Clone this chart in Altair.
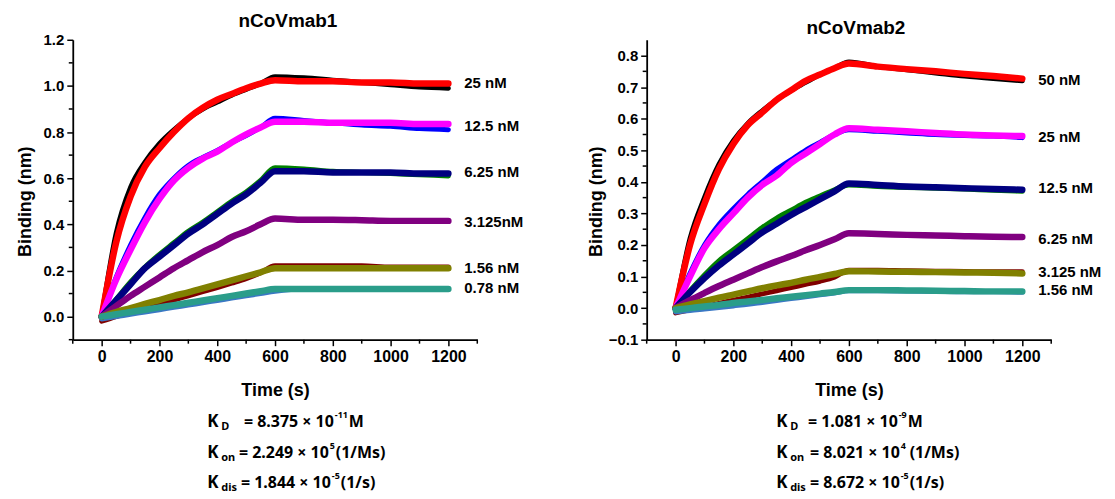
import altair as alt
import pandas as pd

# ---------------- data ----------------
T = [0, 50, 100, 150, 200, 250, 300, 350, 400, 450, 500, 550, 600, 700, 800, 900, 1000, 1100, 1200]

# nCoVmab1 (left panel) : measured traces (thick, on top) and fitted traces (underneath)
L_CONC = ["25 nM", "12.5 nM", "6.25 nM", "3.125nM", "1.56 nM", "0.78 nM"]
L_LABEL_Y = [1.013, 0.826, 0.625, 0.410, 0.211, 0.122]
L_TOP_COLORS = ["#ff0000", "#ff00ff", "#000080", "#800080", "#808000", "#2a9d8a"]
L_UNDER_COLORS = ["#000000", "#0000ff", "#008000", "#800080", "#800000", "#3a78c4"]
L_TOP = [
    [0, 0.32, 0.52, 0.65, 0.73, 0.80, 0.86, 0.905, 0.94, 0.965, 0.99, 1.01, 1.025, 1.02, 1.02, 1.015, 1.015, 1.01, 1.01],
    [0, 0.16, 0.29, 0.41, 0.51, 0.59, 0.645, 0.685, 0.715, 0.755, 0.79, 0.82, 0.845, 0.845, 0.84, 0.84, 0.84, 0.835, 0.835],
    [0, 0.07, 0.14, 0.21, 0.26, 0.31, 0.36, 0.40, 0.445, 0.49, 0.53, 0.58, 0.63, 0.63, 0.625, 0.625, 0.625, 0.62, 0.62],
    [0, 0.045, 0.09, 0.13, 0.17, 0.21, 0.245, 0.28, 0.31, 0.345, 0.37, 0.40, 0.425, 0.42, 0.42, 0.418, 0.415, 0.415, 0.415],
    [0, 0.02, 0.037, 0.055, 0.072, 0.09, 0.105, 0.122, 0.14, 0.157, 0.175, 0.192, 0.21, 0.21, 0.21, 0.21, 0.21, 0.21, 0.21],
    [0, 0.01, 0.02, 0.03, 0.04, 0.05, 0.06, 0.07, 0.08, 0.09, 0.10, 0.11, 0.12, 0.12, 0.12, 0.12, 0.12, 0.12, 0.12],
]
L_UNDER = [
    [0, 0.36, 0.56, 0.67, 0.75, 0.81, 0.86, 0.90, 0.93, 0.96, 0.985, 1.01, 1.04, 1.035, 1.025, 1.015, 1.005, 0.995, 0.99],
    [0, 0.17, 0.31, 0.43, 0.53, 0.60, 0.655, 0.69, 0.72, 0.755, 0.785, 0.82, 0.86, 0.85, 0.84, 0.83, 0.825, 0.815, 0.81],
    [0, 0.075, 0.15, 0.215, 0.27, 0.32, 0.37, 0.41, 0.455, 0.50, 0.54, 0.59, 0.645, 0.64, 0.63, 0.625, 0.62, 0.615, 0.61],
    [0, 0.045, 0.09, 0.13, 0.17, 0.21, 0.245, 0.28, 0.31, 0.345, 0.37, 0.40, 0.425, 0.42, 0.42, 0.418, 0.415, 0.415, 0.415],
    [-0.02, 0.0, 0.018, 0.036, 0.054, 0.072, 0.09, 0.108, 0.126, 0.145, 0.165, 0.19, 0.22, 0.22, 0.22, 0.22, 0.215, 0.215, 0.215],
    [-0.01, 0.0, 0.01, 0.02, 0.03, 0.04, 0.05, 0.06, 0.07, 0.08, 0.09, 0.10, 0.11, 0.12, 0.12, 0.12, 0.12, 0.12, 0.12],
]

# nCoVmab2 (right panel)
R_CONC = ["50 nM", "25 nM", "12.5 nM", "6.25 nM", "3.125 nM", "1.56 nM"]
R_LABEL_Y = [0.7225, 0.542, 0.379, 0.219, 0.114, 0.056]
R_TOP_COLORS = ["#ff0000", "#ff00ff", "#000080", "#800080", "#808000", "#2a9d8a"]
R_UNDER_COLORS = ["#000000", "#0000ff", "#008000", "#800080", "#800000", "#3a78c4"]
R_TOP = [
    [0, 0.20, 0.33, 0.44, 0.52, 0.58, 0.62, 0.66, 0.69, 0.72, 0.74, 0.76, 0.775, 0.765, 0.757, 0.75, 0.742, 0.735, 0.727],
    [0, 0.10, 0.19, 0.25, 0.30, 0.35, 0.39, 0.42, 0.46, 0.49, 0.52, 0.55, 0.57, 0.565, 0.56, 0.555, 0.55, 0.547, 0.545],
    [0, 0.05, 0.095, 0.135, 0.17, 0.205, 0.24, 0.267, 0.295, 0.32, 0.345, 0.37, 0.395, 0.39, 0.385, 0.383, 0.38, 0.377, 0.375],
    [0, 0.025, 0.048, 0.07, 0.09, 0.11, 0.13, 0.148, 0.165, 0.183, 0.20, 0.218, 0.237, 0.235, 0.232, 0.23, 0.228, 0.226, 0.225],
    [0, 0.012, 0.022, 0.033, 0.043, 0.053, 0.063, 0.072, 0.08, 0.09, 0.099, 0.108, 0.117, 0.116, 0.115, 0.114, 0.113, 0.112, 0.11],
    [-0.005, 0.0, 0.005, 0.01, 0.016, 0.021, 0.026, 0.031, 0.036, 0.041, 0.046, 0.051, 0.057, 0.057, 0.056, 0.055, 0.054, 0.053, 0.053],
]
R_UNDER = [
    [0, 0.22, 0.35, 0.455, 0.53, 0.585, 0.625, 0.66, 0.69, 0.715, 0.74, 0.76, 0.78, 0.765, 0.755, 0.745, 0.735, 0.727, 0.72],
    [0, 0.11, 0.20, 0.265, 0.315, 0.36, 0.40, 0.44, 0.47, 0.50, 0.525, 0.55, 0.565, 0.56, 0.555, 0.55, 0.547, 0.545, 0.54],
    [0, 0.055, 0.105, 0.15, 0.185, 0.22, 0.255, 0.285, 0.31, 0.335, 0.355, 0.375, 0.39, 0.385, 0.382, 0.38, 0.377, 0.373, 0.37],
    [0, 0.025, 0.048, 0.07, 0.09, 0.11, 0.13, 0.148, 0.165, 0.183, 0.20, 0.218, 0.237, 0.235, 0.232, 0.23, 0.228, 0.226, 0.225],
    [-0.015, -0.005, 0.005, 0.015, 0.025, 0.035, 0.045, 0.055, 0.065, 0.075, 0.085, 0.098, 0.12, 0.12, 0.118, 0.117, 0.116, 0.115, 0.115],
    [-0.012, -0.008, -0.003, 0.002, 0.007, 0.012, 0.018, 0.024, 0.03, 0.036, 0.042, 0.048, 0.055, 0.055, 0.054, 0.053, 0.052, 0.052, 0.05],
]

X_TICKS = [0, 200, 400, 600, 800, 1000, 1200]
X_MINOR = [-100, 100, 300, 500, 700, 900, 1100, 1300]
L_Y_TICKS = [0.0, 0.2, 0.4, 0.6, 0.8, 1.0, 1.2]
L_Y_MINOR = [-0.1, 0.1, 0.3, 0.5, 0.7, 0.9, 1.1]
R_Y_TICKS = [-0.1, 0.0, 0.1, 0.2, 0.3, 0.4, 0.5, 0.6, 0.7, 0.8]
R_Y_MINOR = [-0.05, 0.05, 0.15, 0.25, 0.35, 0.45, 0.55, 0.65, 0.75]

# kinetic constants: (symbol, subscript, mantissa part, exponent, unit)
L_TEXT = [("K", "D", "=  8.375 × 10", "-11", "M"),
          ("K", "on", "= 2.249 × 10", "5", "(1/Ms)"),
          ("K", "dis", "= 1.844 × 10", "-5", "(1/s)")]
R_TEXT = [("K", "D", "= 1.081 × 10", "-9", "M"),
          ("K", "on", "= 8.021 × 10", "4", "(1/Ms)"),
          ("K", "dis", "= 8.672 × 10", "-5", "(1/s)")]

W, H = 406, 301
AXF = "Liberation Sans"
TXF = "Noto Sans"


def long_df(names, colors, series, order_offset):
    rows = []
    for i, (n, c, vals) in enumerate(zip(names, colors, series)):
        for t, v in zip(T, vals):
            rows.append({"t": t, "v": v, "s": f"{order_offset}{i}_{n}", "col": c})
    return pd.DataFrame(rows)


def txt(x, y, s, size, align="left"):
    return alt.Chart().mark_text(align=align, baseline="middle", font=TXF, fontSize=size,
                                 fontWeight="bold", color="black").encode(
        x=alt.value(x), y=alt.value(y), text=alt.value(s))


def panel(title, dx, names, label_y, top_c, under_c, top, under, ydom, yticks, yminor,
          texts, kx, anchors, tails, ytitle_pad):
    xenc = alt.X("t:Q", scale=alt.Scale(domain=[-100, 1300], nice=False, zero=False),
                 axis=alt.Axis(values=X_TICKS, format="d", title="Time (s)", grid=False, tickSize=6,
                               tickWidth=1.5, domainWidth=1.8, domainColor="black", tickColor="black",
                               labelFont=AXF, labelFontSize=16, labelFontWeight="bold", labelColor="black",
                               labelPadding=3, titleFont=AXF, titleFontSize=18, titleFontWeight="bold",
                               titleColor="black", titlePadding=17, labelFlush=False))
    yenc = alt.Y("v:Q", scale=alt.Scale(domain=ydom, nice=False, zero=False),
                 axis=alt.Axis(values=yticks, format=".1f", title="Binding (nm)", grid=False, tickSize=6,
                               tickWidth=1.5, domainWidth=1.8, domainColor="black", tickColor="black",
                               labelFont=AXF, labelFontSize=15, labelFontWeight="bold", labelColor="black",
                               labelPadding=3, titleFont=AXF, titleFontSize=18, titleFontWeight="bold",
                               titleColor="black", titlePadding=ytitle_pad, titleY=162, labelFlush=False))

    under_df = long_df(names, under_c, under, "a")
    top_df = long_df(names, top_c, top, "b")
    l_under = alt.Chart(under_df).mark_line(strokeWidth=5, strokeCap="round", interpolate="monotone").encode(
        x=xenc, y=yenc, color=alt.Color("col:N", scale=None), detail="s:N")
    l_top = alt.Chart(top_df).mark_line(strokeWidth=6.5, strokeCap="round", interpolate="monotone").encode(
        x=xenc, y=yenc, color=alt.Color("col:N", scale=None), detail="s:N")

    xm = alt.Chart(pd.DataFrame({"t": X_MINOR})).mark_rule(color="black", strokeWidth=1.5).encode(
        x=xenc, y=alt.value(H), y2=alt.value(H + 4))
    ym = alt.Chart(pd.DataFrame({"v": yminor})).mark_rule(color="black", strokeWidth=1.5).encode(
        y=yenc, x=alt.value(0), x2=alt.value(-4))

    lab = alt.Chart(pd.DataFrame({"t": [1255] * len(names), "v": label_y, "txt": names})).mark_text(
        align="left", baseline="middle", font=AXF, fontSize=15, fontWeight="bold", color="black").encode(
        x=xenc, y=yenc, text="txt:N")

    layers = [l_under, l_top, xm, ym, lab]
    ys = [384, 415, 445]
    for (k, sub, main, sup, tail), yy, a, tx in zip(texts, ys, anchors, tails):
        layers.append(txt(kx, yy, k, 17))
        layers.append(txt(kx + 14, yy + 5, sub, 11))
        layers.append(txt(a, yy, main, 16, align="right"))
        layers.append(txt(a + 1, yy - 7, sup, 9))
        layers.append(txt(tx, yy, tail, 16))

    return alt.layer(*layers).properties(
        width=W, height=H,
        title=alt.TitleParams(title, font=AXF, fontSize=19, fontWeight="bold", color="black", dx=dx, offset=2))


left = panel("nCoVmab1", 13, L_CONC, L_LABEL_Y, L_TOP_COLORS, L_UNDER_COLORS, L_TOP, L_UNDER,
             [-0.1, 1.2], L_Y_TICKS, L_Y_MINOR, L_TEXT, 135, [262, 257, 259], [277, 264, 269], 9)
right = panel("nCoVmab2", 7, R_CONC, R_LABEL_Y, R_TOP_COLORS, R_UNDER_COLORS, R_TOP, R_UNDER,
              [-0.1, 0.85], R_Y_TICKS, R_Y_MINOR, R_TEXT, 130, [252, 254, 254], [262, 264, 264], 3)

chart = alt.hconcat(left, right, spacing=170, bounds="flush").configure_view(stroke=None).properties(
    padding={"left": 8, "top": 3, "right": 5, "bottom": 5}, background="white")

chart.save("out.html", embed_options={"renderer": "svg", "actions": False})
